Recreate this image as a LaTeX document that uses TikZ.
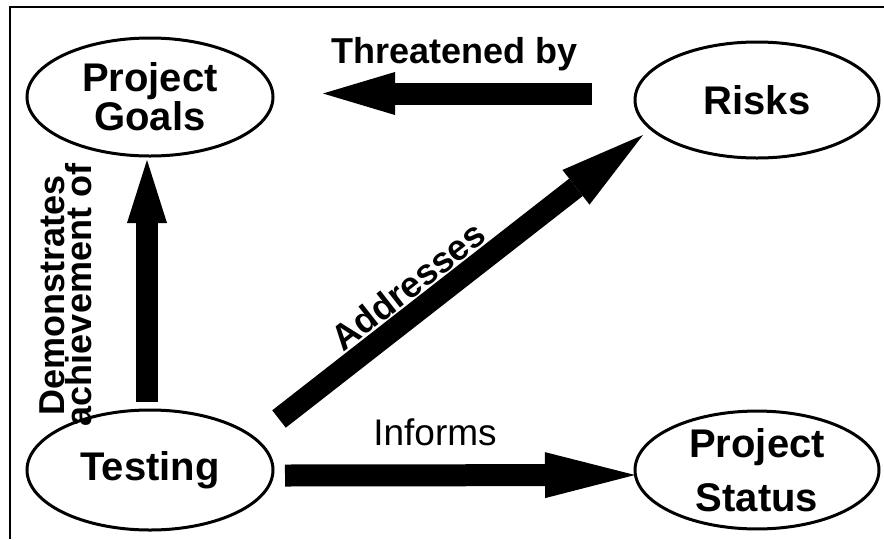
\documentclass[tikz,border=0pt]{standalone}
\usepackage{fontspec}
\setmainfont{Liberation Sans}
\usetikzlibrary{arrows.meta,shapes.geometric}
\begin{document}
\begin{tikzpicture}[x=1pt,y=-1pt,
  place/.style={ellipse,draw,line width=3pt,inner sep=0pt,outer sep=0pt,align=center,
    font=\bfseries\fontsize{40}{39}\selectfont},
  bigarrow/.style 2 args={line width=22pt,-{Triangle[length=#1,width=#2,line width=0pt]}},
  lbl/.style={inner sep=0pt,font=\bfseries\fontsize{36}{27}\selectfont},
  plainlbl/.style={inner sep=0pt,font=\fontsize{37}{40}\selectfont}]
\useasboundingbox (0,0) rectangle (884,539);
\draw[line width=1.4pt] (10,539) -- (10,7) -- (884,7);
% nodes
\node[place,minimum width=246pt,minimum height=118pt] (goals) at (150,97) {Project\\Goals};
\node[place,minimum width=244pt,minimum height=116pt] (risks) at (757,100) {Risks};
\node[place,minimum width=246pt,minimum height=120pt] (testing) at (150,470) {Testing};
\node[place,minimum width=244pt,minimum height=116pt,font=\bfseries\fontsize{40}{54}\selectfont] (status) at (757,470) {Project\\Status};
% labels
\node[lbl,anchor=base] (threat) at (454.5,63) {Threatened by};
\node[lbl,rotate=90,align=center] (demo) at (66,295) {Demonstrates\\achievement of};
\node[lbl,rotate=38] (addr) at (408,286) {Addresses};
\node[plainlbl,anchor=base] (inf) at (435,445) {Informs};
% connectors
\draw[bigarrow={72pt}{43pt}] ([shift={(-165,-6.5)}]risks.center) -- ([shift={(173,-3.5)}]goals.center);
\draw[bigarrow={63pt}{40pt}] ([shift={(-3,-68)}]testing.center) -- ([shift={(-3,63)}]goals.center);
\draw[bigarrow={90pt}{46pt}] ([shift={(135,5.5)}]testing.center) -- ([shift={(-122,5)}]status.center);
\draw[bigarrow={85pt}{44pt}] ([shift={(129,-51)}]testing.center) -- ([shift={(-114,35)}]risks.center);
\end{tikzpicture}
\end{document}
